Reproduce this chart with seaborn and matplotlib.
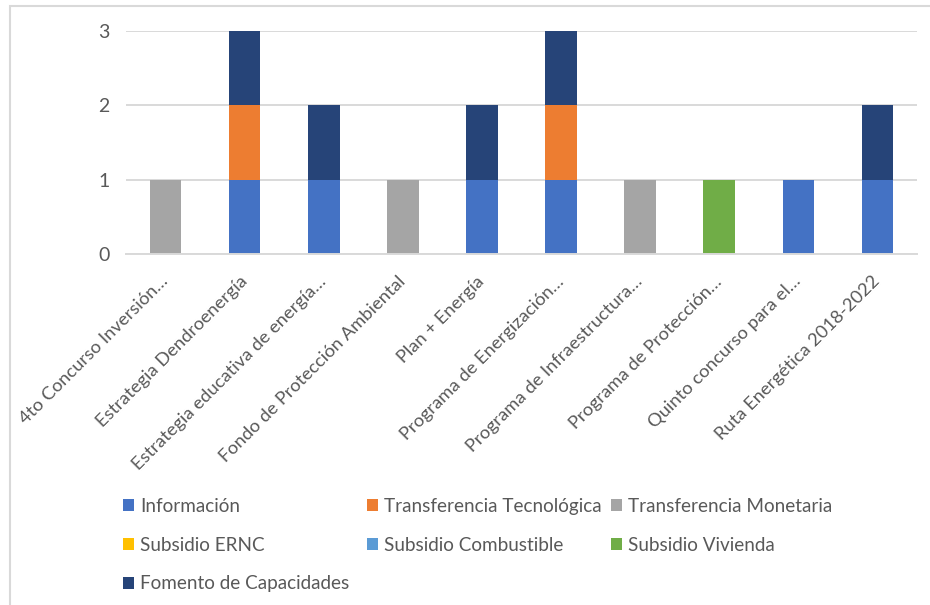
import matplotlib
matplotlib.use("Agg")
import matplotlib.pyplot as plt
from matplotlib.patches import Patch, Rectangle
import numpy as np
import seaborn as sns

# Instruments and the number of measures of each type
programas = [
    "4to Concurso Inversión\u2026",
    "Estrategia Dendroenergía",
    "Estrategia educativa de energía\u2026",
    "Fondo de Protección Ambiental",
    "Plan + Energía",
    "Programa de Energización\u2026",
    "Programa de Infraestructura\u2026",
    "Programa de Protección\u2026",
    "Quinto concurso para el\u2026",
    "Ruta Energética 2018-2022",
]
series = [
    "Información",
    "Transferencia Tecnológica",
    "Transferencia Monetaria",
    "Subsidio ERNC",
    "Subsidio Combustible",
    "Subsidio Vivienda",
    "Fomento de Capacidades",
]
informacion = [0, 1, 1, 0, 1, 1, 0, 0, 1, 1]
transf_tecnologica = [0, 1, 0, 0, 0, 1, 0, 0, 0, 0]
transf_monetaria = [1, 0, 0, 1, 0, 0, 1, 0, 0, 0]
subsidio_ernc = [0, 0, 0, 0, 0, 0, 0, 0, 0, 0]
subsidio_combustible = [0, 0, 0, 0, 0, 0, 0, 0, 0, 0]
subsidio_vivienda = [0, 0, 0, 0, 0, 0, 0, 1, 0, 0]
fomento_capacidades = [0, 1, 1, 0, 1, 1, 0, 0, 0, 1]
y_ticks = [0, 1, 2, 3]

valores = [informacion, transf_tecnologica, transf_monetaria, subsidio_ernc,
           subsidio_combustible, subsidio_vivienda, fomento_capacidades]
colores = ["#4472C4", "#ED7D31", "#A5A5A5", "#FFC000", "#5B9BD5", "#70AD47", "#264478"]

sns.set_theme(style="white")
plt.rcParams["font.family"] = ["Lato", "DejaVu Sans"]
texto = "#595959"
grid = "#D9D9D9"

W, H = 930, 605
fig = plt.figure(figsize=(W / 100, H / 100), dpi=100)
ax = fig.add_axes([126 / W, 1 - 254 / H, (917 - 126) / W, (254 - 31) / H])

base = np.zeros(len(programas))
for nombre, vals, col in zip(series, valores, colores):
    v = np.array(vals, dtype=float)
    sns.barplot(x=programas, y=v, bottom=base, color=col, width=0.4,
                errorbar=None, ax=ax, saturation=1, linewidth=0)
    base = base + v

ax.set_ylim(0, 3)
ax.set_xlim(-0.5, len(programas) - 0.5)
ax.set_yticks(y_ticks)
ax.set_yticklabels([str(t) for t in y_ticks])
ax.yaxis.grid(True, color=grid, linewidth=1.4)
ax.set_axisbelow(True)
for s in ["top", "right", "left"]:
    ax.spines[s].set_visible(False)
ax.spines["bottom"].set_color(grid)
ax.spines["bottom"].set_linewidth(1.4)
ax.set_xlabel("")
ax.set_ylabel("")
ax.tick_params(axis="y", length=0, pad=12, labelsize=14, labelcolor=texto)
ax.tick_params(axis="x", length=0, pad=18, labelsize=13.2, labelcolor=texto)
for lbl in ax.get_xticklabels():
    lbl.set_rotation(45)
    lbl.set_ha("right")
    lbl.set_va("center")
    lbl.set_rotation_mode("anchor")

# Legend laid out in three columns, filled row by row
handles = {n: Patch(facecolor=c, edgecolor="none") for n, c in zip(series, colores)}
columnas = [
    (["Información", "Subsidio ERNC", "Fomento de Capacidades"], 123),
    (["Transferencia Tecnológica", "Subsidio Combustible"], 367),
    (["Transferencia Monetaria", "Subsidio Vivienda"], 611),
]
for nombres, x0 in columnas:
    leg = fig.legend([handles[n] for n in nombres], nombres,
                     loc="upper left", bbox_to_anchor=(x0 / W, 1 - 498 / H),
                     frameon=False, fontsize=13.6, handlelength=0.6,
                     handleheight=0.6, handletextpad=0.3, labelspacing=1.15,
                     borderaxespad=0, borderpad=0)
    for t in leg.get_texts():
        t.set_color(texto)

# Light chart-area border
fig.patches.append(Rectangle((10 / W, -0.1), 1.2, 1 - 6 / H + 0.1,
                             transform=fig.transFigure, fill=False,
                             edgecolor=grid, linewidth=1.5))

fig.savefig("out.png", dpi=100)
